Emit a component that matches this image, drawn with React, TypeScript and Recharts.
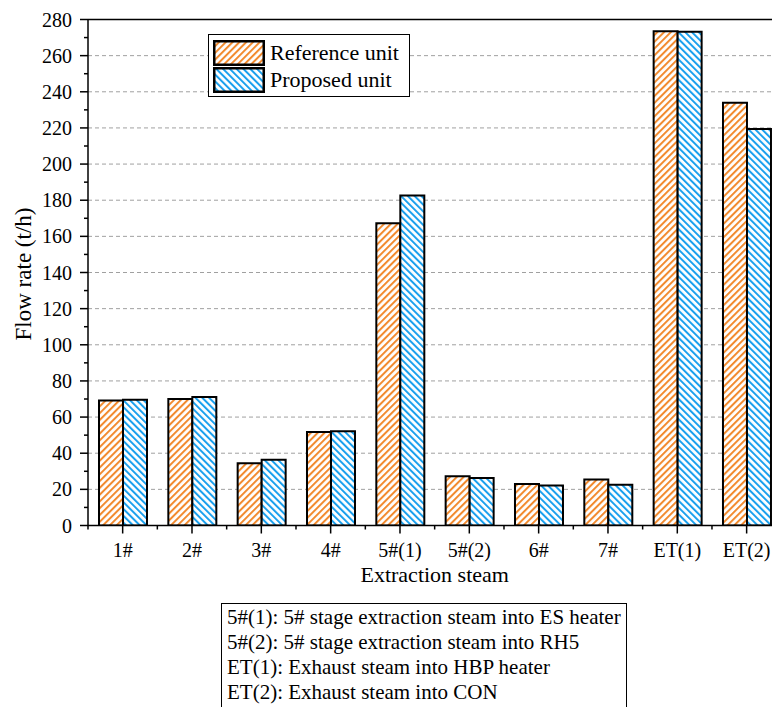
import React from 'react';
import { BarChart, Bar, XAxis, YAxis, ReferenceLine, Legend, CartesianGrid } from 'recharts';

const categories = ['1#', '2#', '3#', '4#', '5#(1)', '5#(2)', '6#', '7#', 'ET(1)', 'ET(2)'];
const referenceUnit = [69.2, 70.0, 34.4, 51.7, 167.2, 27.2, 23.0, 25.4, 273.5, 234.0];
const proposedUnit = [69.6, 71.1, 36.4, 52.1, 182.6, 26.3, 22.1, 22.6, 273.2, 219.4];
const seriesNames = ['Reference unit', 'Proposed unit'];
const yTicks = [0, 10, 20, 30, 40, 50, 60, 70, 80, 90, 100, 110, 120, 130, 140, 150, 160, 170, 180, 190, 200, 210, 220, 230, 240, 250, 260, 270, 280];
const yLabelTicks = [0, 20, 40, 60, 80, 100, 120, 140, 160, 180, 200, 220, 240, 260, 280];
const gridValues = [20, 40, 60, 80, 100, 120, 140, 160, 180, 200, 220, 240, 260];
const xTitle = 'Extraction steam';
const yTitle = 'Flow rate (t/h)';
const notes = [
  '5#(1): 5# stage extraction steam into ES heater',
  '5#(2): 5# stage extraction steam into RH5',
  'ET(1): Exhaust steam into HBP heater',
  'ET(2): Exhaust steam into CON',
];

const data = categories.map((c, i) => ({ name: c, referenceUnit: referenceUnit[i], proposedUnit: proposedUnit[i] }));

const FONT = 'Liberation Serif, Tinos, Times New Roman, Times, DejaVu Serif, serif';
const ORANGE = '#F28A2E';
const BLUE = '#1AA0EE';

const renderXTick = (props: any) => {
  const { x, y, payload, index } = props;
  const half = 34.67;
  return (
    <g key={`xt-${index}`}>
      <line x1={x} y1={y} x2={x} y2={y + 8} stroke="#000" strokeWidth={1.5} />
      <line x1={x + half} y1={y} x2={x + half} y2={y + 4} stroke="#000" strokeWidth={1.5} />
      {index === 0 && <line x1={x - half} y1={y} x2={x - half} y2={y + 4} stroke="#000" strokeWidth={1.5} />}
      <text x={x} y={y + 31.5} textAnchor="middle" style={{ fontSize: 20, fontFamily: FONT }} fill="#000">
        {payload.value}
      </text>
    </g>
  );
};

const renderYTick = (props: any) => {
  const { x, y, payload, index } = props;
  const major = yLabelTicks.includes(payload.value);
  return (
    <g key={`yt-${index}`}>
      <line x1={x} y1={y} x2={x - (major ? 8 : 4)} y2={y} stroke="#000" strokeWidth={1.5} />
      {major && (
        <text x={x - 16} y={y + 7} textAnchor="end" style={{ fontSize: 20, fontFamily: FONT }} fill="#000">
          {payload.value}
        </text>
      )}
    </g>
  );
};

const fills = ['url(#hatchOrange)', 'url(#hatchBlue)'];

const renderLegend = (props: any) => {
  const payload = (props && props.payload ? [...props.payload] : []).sort(
    (a: any, b: any) => seriesNames.indexOf(a.value) - seriesNames.indexOf(b.value)
  );
  return (
    <div
      style={{
        border: '1px solid #000',
        width: 202,
        height: 63,
        boxSizing: 'border-box',
        background: '#fff',
        paddingLeft: 4,
        paddingTop: 4,
        fontFamily: FONT,
        fontSize: 22,
        color: '#000',
      }}
    >
      {payload.map((p: any, i: number) => (
        <div key={i} style={{ display: 'flex', alignItems: 'center', height: 27 }}>
          <svg width={52} height={26} style={{ display: 'block' }}>
            <rect x={1.25} y={1.25} width={49.5} height={23.5} fill={fills[seriesNames.indexOf(p.value)]} stroke="#000" strokeWidth={2.5} />
          </svg>
          <span style={{ marginLeft: 5, lineHeight: '26px' }}>{p.value}</span>
        </div>
      ))}
    </div>
  );
};

export default function App() {
  return (
    <div
      style={{
        position: 'fixed',
        left: 0,
        top: 0,
        width: 772,
        height: 707,
        overflow: 'hidden',
        background: '#fff',
        fontFamily: FONT,
      }}
    >
      <div style={{ position: 'absolute', left: 8, top: 8 }}>
        <BarChart
          width={790}
          height={699}
          data={data}
          margin={{ top: 11.5, right: 16.7, left: 0, bottom: 121.5 }}
          barGap={0}
          barSize={24}
        >
          <defs>
            <pattern id="hatchOrange" patternUnits="userSpaceOnUse" width={4.8} height={4.8} patternTransform="rotate(45)">
              <rect x={0} y={0} width={4.8} height={4.8} fill="#fff" />
              <rect x={0} y={0} width={2} height={4.8} fill={ORANGE} />
            </pattern>
            <pattern id="hatchBlue" patternUnits="userSpaceOnUse" width={4.8} height={4.8} patternTransform="rotate(-45)">
              <rect x={0} y={0} width={4.8} height={4.8} fill="#fff" />
              <rect x={0} y={0} width={2} height={4.8} fill={BLUE} />
            </pattern>
          </defs>
          <CartesianGrid vertical={false} horizontalValues={gridValues} stroke="#a0a0a0" strokeDasharray="4 3" />
          <XAxis
            dataKey="name"
            height={60}
            tick={renderXTick}
            tickLine={false}
            tickSize={0}
            tickMargin={0}
            axisLine={{ stroke: '#000', strokeWidth: 1.5 }}
            interval={0}
          />
          <YAxis
            width={80}
            domain={[0, 280]}
            ticks={yTicks}
            interval={0}
            tick={renderYTick}
            tickLine={false}
            tickSize={0}
            tickMargin={0}
            axisLine={{ stroke: '#000', strokeWidth: 1.5 }}
            allowDataOverflow
          />
          <ReferenceLine y={280} stroke="#000" strokeWidth={1.5} />
          <Legend
            layout="vertical"
            align="center"
            verticalAlign="middle"
            content={renderLegend}
            wrapperStyle={{ position: 'absolute', left: 200, top: 26, width: 'auto', height: 'auto' }}
          />
          <Bar dataKey="referenceUnit" name={seriesNames[0]} fill={fills[0]} stroke="#000" strokeWidth={2} isAnimationActive={false} />
          <Bar dataKey="proposedUnit" name={seriesNames[1]} fill={fills[1]} stroke="#000" strokeWidth={2} isAnimationActive={false} />
          <text x={426.7} y={574} textAnchor="middle" style={{ fontSize: 22, fontFamily: FONT }} fill="#000">
            {xTitle}
          </text>
          <text x={23} y={266} transform="rotate(-90, 23, 266)" textAnchor="middle" style={{ fontSize: 23, fontFamily: FONT }} fill="#000">
            {yTitle}
          </text>
        </BarChart>
      </div>
      <div
        style={{
          position: 'absolute',
          left: 221,
          top: 603,
          width: 406,
          height: 130,
          border: '1px solid #000',
          boxSizing: 'border-box',
          background: '#fff',
          fontFamily: FONT,
          fontSize: 21,
          lineHeight: '25px',
          paddingLeft: 5,
          paddingTop: 1,
          color: '#000',
          whiteSpace: 'nowrap',
        }}
      >
        {notes.map((n, i) => (
          <div key={i}>{n}</div>
        ))}
      </div>
    </div>
  );
}
